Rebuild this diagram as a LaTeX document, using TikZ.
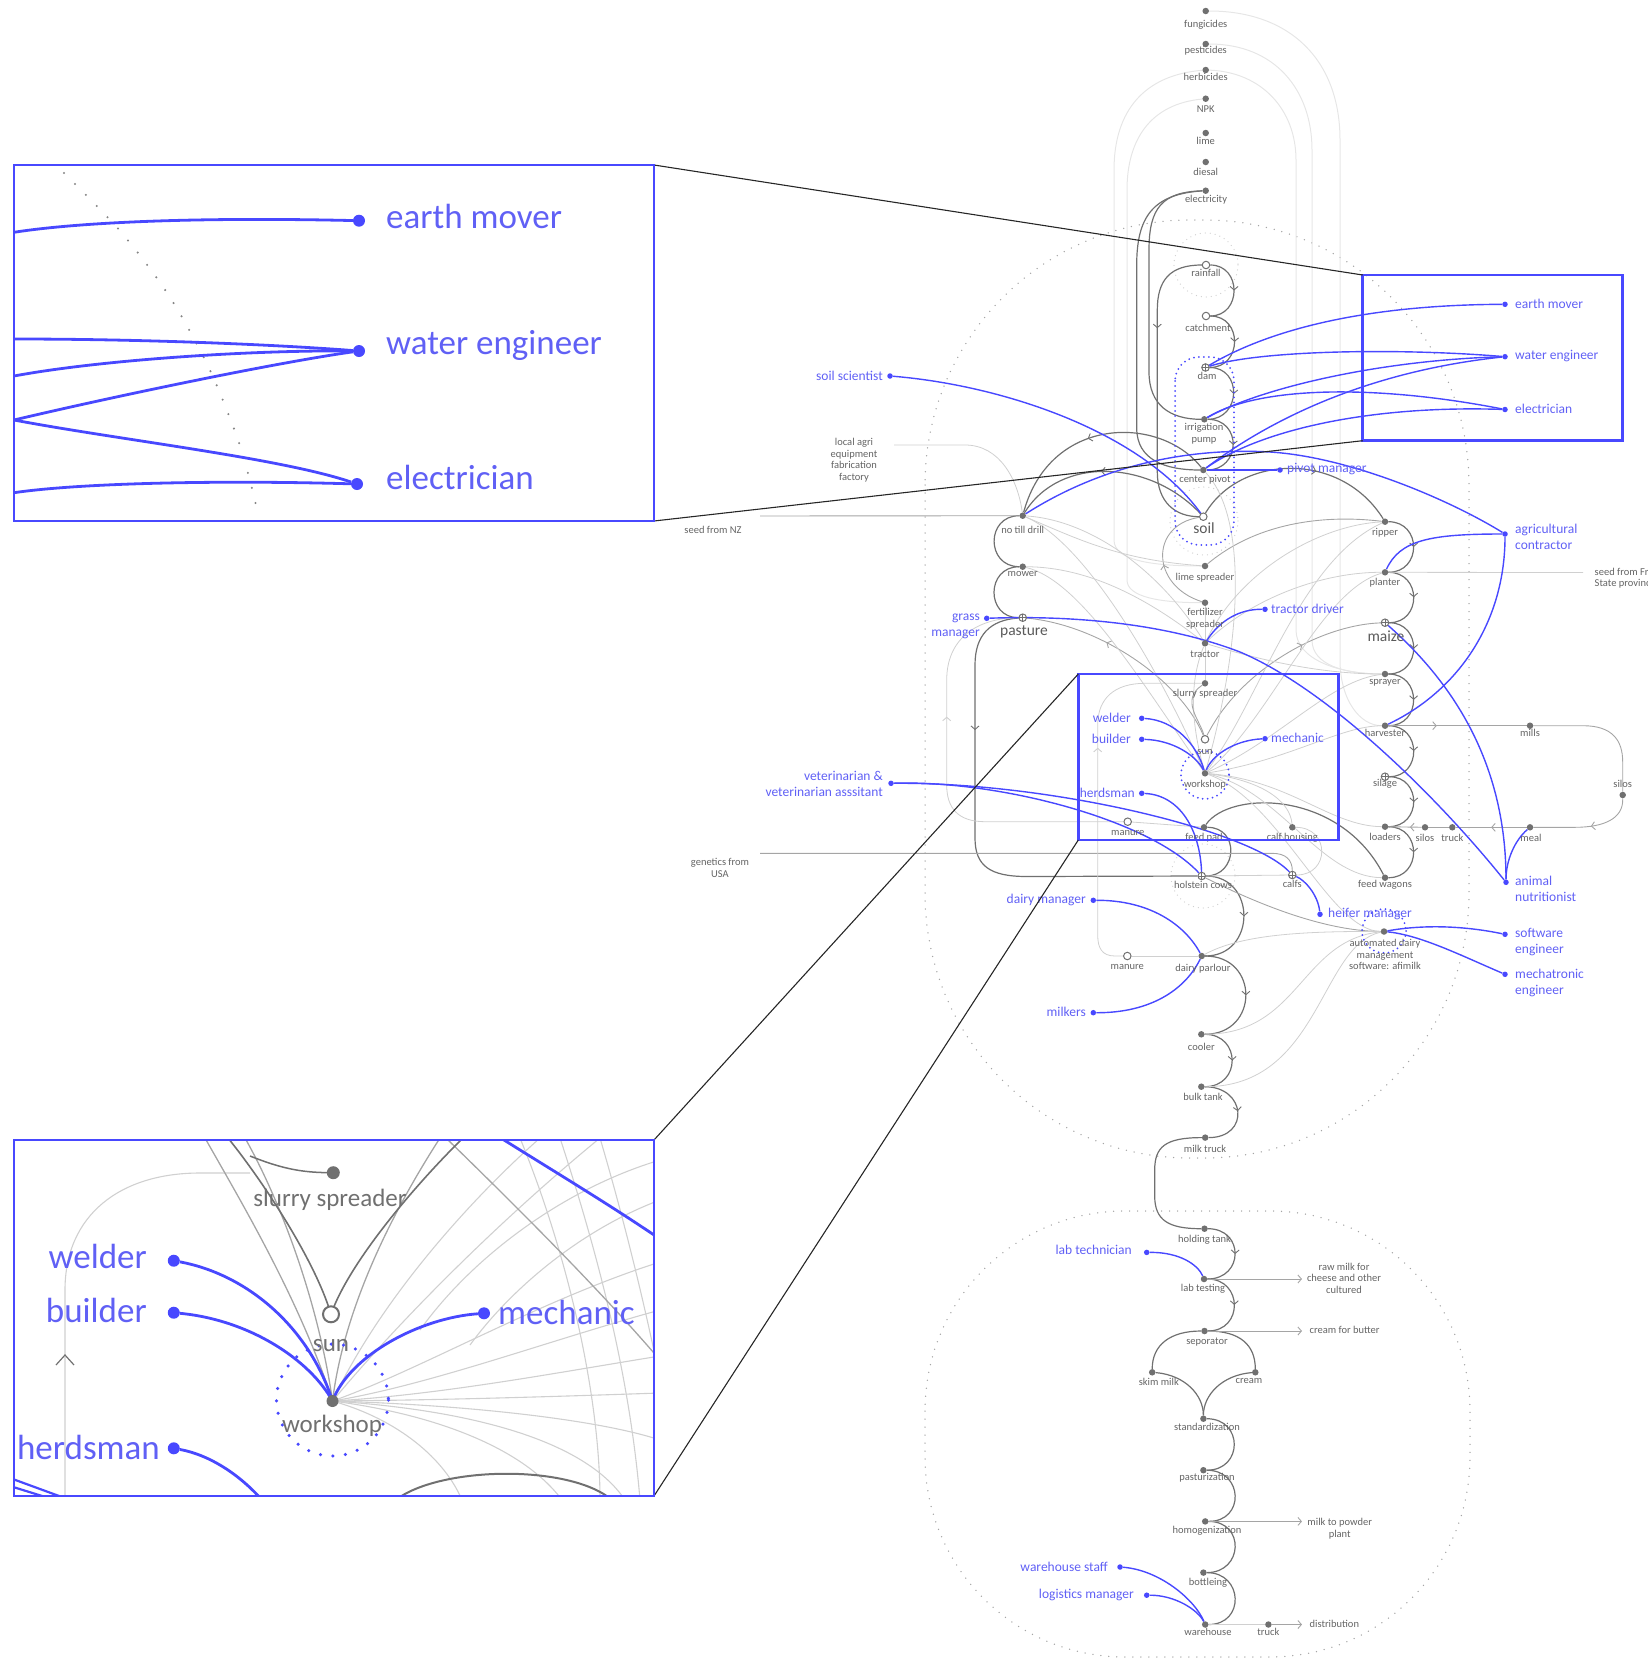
\documentclass[tikz,border=0pt]{standalone}
\usepackage{fontspec}
\setmainfont{Carlito}
\usetikzlibrary{arrows.meta,decorations.markings}
\pgfdeclarelayer{bg}
\pgfdeclarelayer{mid}
\pgfsetlayers{bg,mid,main}
\definecolor{bl}{RGB}{72,72,255}
\definecolor{blt}{RGB}{96,96,245}
\definecolor{dg}{RGB}{112,112,112}
\definecolor{mg}{RGB}{165,165,165}
\definecolor{lg}{RGB}{208,208,208}
\definecolor{vlg}{RGB}{230,230,230}
\definecolor{tg}{RGB}{100,100,100}
\definecolor{bigg}{RGB}{90,90,90}
\tikzset{
 gd/.style={circle,fill=dg,draw=none,inner sep=0pt,minimum size=6.5pt},
 od/.style={circle,fill=white,draw=dg,line width=1pt,inner sep=0pt,minimum size=7.5pt},
 odp/.style={od,path picture={\draw[dg,line width=0.6pt] (path picture bounding box.west) -- (path picture bounding box.east) (path picture bounding box.north) -- (path picture bounding box.south);}},
 bd/.style={circle,fill=bl,draw=none,inner sep=0pt,minimum size=5.5pt},
 lab/.style={text=tg,font=\fontsize{10.5}{11.5}\selectfont,align=center,inner sep=0pt},
 biglab/.style={text=bigg,font=\fontsize{15.5}{17}\selectfont,inner sep=0pt},
 blab/.style={text=blt,font=\fontsize{13.5}{16}\selectfont,inner sep=0pt},
 dk/.style={draw=dg,line width=1.2pt},
 md/.style={draw=mg,line width=0.9pt},
 lt/.style={draw=lg,line width=0.8pt},
 vlt/.style={draw=vlg,line width=1pt},
 bln/.style={draw=bl,line width=1.4pt},
 midarr/.style={postaction={decorate},decoration={markings,mark=at position #1 with {\arrow{Straight Barb[length=3.5pt,width=8pt,line width=0.9pt]}}}},
 endarr/.style={-{Straight Barb[length=3.5pt,width=8pt,line width=0.9pt]}},
 bigdots/.style={draw=mg,line width=1.5pt,line cap=round,dash pattern=on 0pt off 8pt},
 smdots/.style={draw=lg,line width=1.3pt,line cap=round,dash pattern=on 0pt off 5pt},
 bdots/.style={draw=bl,line width=2pt,line cap=round,dash pattern=on 0pt off 5pt},
 bbox/.style={draw=bl,line width=2.5pt},
 callout/.style={draw=black!85,line width=1.1pt},
 ibl/.style={draw=bl,line width=2.8pt},
 ibd/.style={circle,fill=bl,draw=none,inner sep=0pt,minimum size=12pt},
 ilab/.style={text=blt,font=\fontsize{35}{40}\selectfont,inner sep=0pt},
 iglab/.style={text=dg,font=\fontsize{25}{28}\selectfont,inner sep=0pt},
}
\begin{document}
\begin{tikzpicture}[x=1pt,y=-1pt]
\useasboundingbox (0,0) rectangle (1648,1673);

%================ NODES (main) ================
\node[gd] (fung) at (1205.7,11) {};
\node[gd] (pest) at (1205.7,44) {};
\node[gd] (herb) at (1205.7,70) {};
\node[gd] (npk) at (1205.7,98.7) {};
\node[gd] (lime) at (1205.7,133) {};
\node[gd] (dies) at (1205.7,162) {};
\node[gd] (elec) at (1205.7,190.7) {};
\node[od] (rain) at (1206,265) {};
\node[od] (catch) at (1206,316) {};
\node[odp] (dam) at (1205.5,367.5) {};
\node[gd] (pump) at (1204.3,419.3) {};
\node[gd] (cpiv) at (1203.3,470) {};
\node[od] (soil) at (1203.3,516.7) {};
\node[gd] (notill) at (1022.7,515.7) {};
\node[gd] (mower) at (1022.7,566.7) {};
\node[odp] (past) at (1022.7,617.7) {};
\node[gd] (limesp) at (1205,566) {};
\node[gd] (fert) at (1205,602.7) {};
\node[gd] (tract) at (1205,643.3) {};
\node[gd] (slurry) at (1205,683.3) {};
\node[od] (sun) at (1205,739.3) {};
\node[gd] (ws) at (1205,773.3) {};
\node[gd] (ripper) at (1385,521.7) {};
\node[gd] (planter) at (1385,572.3) {};
\node[odp] (maize) at (1385,622.7) {};
\node[gd] (sprayer) at (1385,674) {};
\node[gd] (harv) at (1385,725.7) {};
\node[odp] (silage) at (1385,776.7) {};
\node[gd] (loaders) at (1385,826.7) {};
\node[gd] (fwag) at (1385,877.7) {};
\node[gd] (mills) at (1530,725.7) {};
\node[gd] (silosR) at (1622.7,795) {};
\node[gd] (meal) at (1530,827.3) {};
\node[gd] (truckA) at (1452.3,827.3) {};
\node[gd] (silosA) at (1425,827.3) {};
\node[od] (manuA) at (1127.7,821.7) {};
\node[gd] (fpad) at (1204,827.3) {};
\node[gd] (calfh) at (1292.3,827.3) {};
\node[odp] (hcows) at (1201.7,876) {};
\node[odp] (calfs) at (1292.3,875) {};
\node[gd] (auto) at (1384,931.5) {};
\node[od] (manuB) at (1127.3,956) {};
\node[gd] (dparl) at (1201.7,956) {};
\node[gd] (cooler) at (1201.3,1034.3) {};
\node[gd] (btank) at (1201.3,1086.7) {};
\node[gd] (mtruck) at (1205.2,1137.6) {};
\node[gd] (htank) at (1204.5,1228.7) {};
\node[gd] (labt) at (1204,1279) {};
\node[gd] (sep) at (1204.5,1331) {};
\node[gd] (skim) at (1152.2,1372.3) {};
\node[gd] (cream) at (1255.3,1372.3) {};
\node[gd] (stdz) at (1203.4,1418.7) {};
\node[gd] (pstz) at (1203.4,1470.2) {};
\node[gd] (homog) at (1205.2,1521.4) {};
\node[gd] (bottl) at (1203.4,1572.6) {};
\node[gd] (wareh) at (1205.2,1624.5) {};
\node[gd] (truckB) at (1268.4,1624.5) {};
\coordinate (rawend) at (1302,1279);
\coordinate (butend) at (1302,1331);
\coordinate (powend) at (1302,1521.4);
\coordinate (distend) at (1302,1624.5);
\coordinate (seedNZ) at (760,516);
\coordinate (seedFS) at (1583,572.5);
\coordinate (agri) at (894,445);
\coordinate (genA) at (760,853.3);

% blue dots
\node[bd] (emover) at (1505,304.3) {};
\node[bd] (weng) at (1505,356.7) {};
\node[bd] (elecn) at (1505,409.5) {};
\node[bd] (pivman) at (1280,470) {};
\node[bd] (agcon) at (1505,534) {};
\node[bd] (soilsci) at (890,376) {};
\node[bd] (grassm) at (986.7,618.3) {};
\node[bd] (tdriv) at (1265,609.3) {};
\node[bd] (welder) at (1141.7,718.3) {};
\node[bd] (builder) at (1141.7,739.3) {};
\node[bd] (mech) at (1265,738.7) {};
\node[bd] (herds) at (1141.7,793.3) {};
\node[bd] (vet) at (891,783.3) {};
\node[bd] (heifer) at (1320,914.3) {};
\node[bd] (dairym) at (1093.3,900.3) {};
\node[bd] (milkers) at (1093.3,1012.7) {};
\node[bd] (animn) at (1506,882.3) {};
\node[bd] (softe) at (1505,934.3) {};
\node[bd] (mecha) at (1505,974.3) {};
\node[bd] (labtech) at (1146.7,1252.4) {};
\node[bd] (whstaff) at (1120,1567) {};
\node[bd] (logman) at (1146.7,1595.2) {};

%================ LABELS (gray) ================
\node[lab] (t1) at (1205.7,25) {fungicides};
\node[lab] (t2) at (1205.7,51) {pesticides};
\node[lab] (t3) at (1205.7,77) {herbicides};
\node[lab] (t4) at (1205.7,109) {NPK};
\node[lab] (t5) at (1205.7,141) {lime};
\node[lab] (t6) at (1205.7,172) {diesal};
\node[lab] (t7) at (1206,200) {electricity};
\node[lab] (t8) at (1206,273) {rainfall};
\node[lab] (t9) at (1208,328) {catchment};
\node[lab] (t10) at (1207,376) {dam};
\node[lab] (t11) at (1204,433.5) {irrigation\\pump};
\node[lab] (t12) at (1205,480) {center pivot};
\node[biglab] (t13) at (1204,528) {soil};
\node[lab] (t14) at (1022.7,529.5) {no till drill};
\node[lab] (t15) at (1022.7,574) {mower};
\node[biglab] (t16) at (1024,631.5) {pasture};
\node[lab] (t17) at (1205,578) {lime spreader};
\node[lab] (t18) at (1205,618.5) {fertilizer\\spreader};
\node[lab] (t19) at (1205,654.5) {tractor};
\node[lab] (t20) at (1205,694) {slurry spreader};
\node[lab] (t21) at (1205,752) {sun};
\node[lab] (t22) at (1205,785) {workshop};
\node[lab] (t23) at (1385,533) {ripper};
\node[lab] (t24) at (1385,583) {planter};
\node[biglab] (t25) at (1386,636.5) {maize};
\node[lab] (t26) at (1385,683) {sprayer};
\node[lab] (t27) at (1385,733) {harvester};
\node[lab] (t28) at (1385,784) {silage};
\node[lab] (t29) at (1385,837) {loaders};
\node[lab] (t30) at (1385,885) {feed wagons};
\node[lab] (t31) at (1530,733) {mills};
\node[lab] (t32) at (1622.7,784) {silos};
\node[lab] (t33) at (1531,838) {meal};
\node[lab] (t34) at (1452.3,838) {truck};
\node[lab] (t35) at (1425,838) {silos};
\node[lab] (t36) at (1127.7,833) {manure};
\node[lab] (t37) at (1204,838) {feed pad};
\node[lab] (t38) at (1292.3,838) {calf housing};
\node[lab] (t39) at (1203,885) {holstein cows};
\node[lab] (t40) at (1292.3,884) {calfs};
\node[lab] (t41) at (1385,954.5) {automated dairy\\management\\software: afimilk};
\node[lab] (t42) at (1127.3,967) {manure};
\node[lab] (t43) at (1203,969) {dairy parlour};
\node[lab] (t44) at (1201.3,1047) {cooler};
\node[lab] (t45) at (1203,1097) {bulk tank};
\node[lab] (t46) at (1205,1148.5) {milk truck};
\node[lab] (t47) at (1204.5,1240) {holding tank};
\node[lab] (t48) at (1203,1289) {lab testing};
\node[lab] (t49) at (1207,1342) {seporator};
\node[lab] (t50) at (1158.8,1381.4) {skim milk};
\node[lab] (t51) at (1249,1381.4) {cream};
\node[lab] (t52) at (1207,1427) {standardization};
\node[lab] (t53) at (1207,1478) {pasturization};
\node[lab] (t54) at (1207,1530.6) {homogenization};
\node[lab] (t55) at (1208,1583) {bottleing};
\node[lab] (t56) at (1208,1631.8) {warehouse};
\node[lab] (t57) at (1268.4,1631.8) {truck};
\node[lab] (t58) at (1344,1278) {raw milk for\\cheese and other\\cultured};
\node[lab,anchor=west] (t59) at (1309.4,1330) {cream for butter};
\node[lab] (t60) at (1339.7,1528.5) {milk to powder\\plant};
\node[lab,anchor=west] (t61) at (1309.4,1623.7) {distribution};
\node[lab] (t62) at (713,530) {seed from NZ};
\node[lab] (t63) at (854,460) {local agri\\equipment\\fabrication\\factory};
\node[lab] (t64) at (720,868) {genetics from\\USA};
\node[lab,anchor=west,align=left] (t65) at (1594.5,578) {seed from Free\\State province};

%================ LABELS (blue) ================
\node[blab,anchor=west] (b1) at (1515,304) {earth mover};
\node[blab,anchor=west] (b2) at (1515,356) {water engineer};
\node[blab,anchor=west] (b3) at (1515,408.5) {electrician};
\node[blab,anchor=west] (b4) at (1287,469.5) {pivot manager};
\node[blab,anchor=west,align=left] (b5) at (1515,537) {agricultural\\contractor};
\node[blab,anchor=west] (b6) at (1271,608.5) {tractor driver};
\node[blab,anchor=west] (b7) at (1271,738) {mechanic};
\node[blab,anchor=west] (b8) at (1328,914) {heifer manager};
\node[blab,anchor=west,align=left] (b9) at (1515,888.5) {animal\\nutritionist};
\node[blab,anchor=west,align=left] (b10) at (1515,942) {software\\engineer};
\node[blab,anchor=west,align=left] (b11) at (1515,983) {mechatronic\\engineer};
\node[blab,anchor=east] (b12) at (883,375.5) {soil scientist};
\node[blab,anchor=east,align=right] (b13) at (980,626.5) {grass\\manager};
\node[blab,anchor=east] (b14) at (1131,717.5) {welder};
\node[blab,anchor=east] (b15) at (1131,738.5) {builder};
\node[blab,anchor=east] (b16) at (1135,792.5) {herdsman};
\node[blab,anchor=east,align=right] (b17) at (883,783.5) {veterinarian \&\\veterinarian asssitant};
\node[blab,anchor=east] (b18) at (1086,899.5) {dairy manager};
\node[blab,anchor=east] (b19) at (1086,1012) {milkers};
\node[blab,anchor=east] (b20) at (1132,1250) {lab technician};
\node[blab,anchor=east] (b21) at (1108,1566.5) {warehouse staff};
\node[blab,anchor=east] (b22) at (1134,1594.5) {logistics manager};

%================ BACKGROUND CONNECTORS ================
\begin{pgfonlayer}{bg}
\draw[bigdots,rounded corners=265pt] (925,220) rectangle (1469,1158);
\draw[bigdots,rounded corners=200pt] (925,1211) rectangle (1470,1657);
\draw[smdots] (1206,265) circle[radius=32];
\draw[smdots] (1204,521) circle[radius=34];
\draw[smdots] (1203,876) circle[radius=32];

\draw[vlt] (fung) .. controls (1290,11) and (1340,60) .. (1340,140) -- (1340,660) .. controls (1340,700) and (1360,725.7) .. (harv);
\draw[vlt] (pest) .. controls (1275,44) and (1312,90) .. (1312,150) -- (1312,640) .. controls (1312,665) and (1345,674) .. (sprayer);
\draw[vlt] (herb) .. controls (1262,72) and (1296,110) .. (1296,160) -- (1296,630) .. controls (1296,660) and (1340,674) .. (sprayer);
\draw[vlt] (herb) .. controls (1145,75) and (1114,110) .. (1114,170) -- (1114,540) .. controls (1114,560) and (1150,566) .. (limesp);
\draw[vlt] (npk) .. controls (1150,104) and (1127,140) .. (1127,190) -- (1127,580) .. controls (1127,597) and (1160,602.7) .. (fert);

\draw[dk,midarr=0.5] (rain) .. controls +(36,0) and +(36,0) .. (catch);
\draw[dk,midarr=0.5] (catch) .. controls +(37,0) and +(37,0) .. (dam);
\draw[dk,midarr=0.5] (dam) .. controls +(37,0) and +(37,0) .. (pump);
\draw[dk,midarr=0.5] (pump) .. controls +(38,0) and +(38,0) .. (cpiv);
\draw[dk] (elec) .. controls (1162,192) and (1149,208) .. (1149,250) -- (1149,372) .. controls (1149,405) and (1170,419.3) .. (pump);
\draw[dk] (elec) .. controls (1152,194) and (1136.7,218) .. (1136.7,265) -- (1136.7,428) .. controls (1136.7,460) and (1165,470) .. (cpiv);
\draw[dk,midarr=0.3] (rain) .. controls (1170,265) and (1157.3,280) .. (1157.3,310) -- (1157.3,472) .. controls (1157.3,502) and (1175,516.7) .. (soil);
\draw[dk,midarr=0.55] (cpiv) .. controls (1160,415) and (1050,415) .. (notill);
\draw[dk,midarr=0.55] (soil) .. controls (1150,460) and (1060,455) .. (notill);
\draw[dk,midarr=0.6] (soil) .. controls (1240,455) and (1340,450) .. (ripper);
\draw[dk] (notill) .. controls +(-37,0) and +(-37,0) .. (mower);
\draw[dk] (mower) .. controls +(-37,0) and +(-37,0) .. (past);
\draw[dk,midarr=0.28] (past) .. controls (990,620) and (975,635) .. (975,665) -- (975,838) .. controls (975,866) and (990,876.5) .. (1026.7,876.5) -- (hcows);

\draw[dk,midarr=0.5] (ripper) .. controls +(37,0) and +(37,0) .. (planter);
\draw[dk,midarr=0.5] (planter) .. controls +(37,0) and +(37,0) .. (maize);
\draw[dk,midarr=0.5] (maize) .. controls +(37,0) and +(37,0) .. (sprayer);
\draw[dk,midarr=0.5] (sprayer) .. controls +(37,0) and +(37,0) .. (harv);
\draw[dk,midarr=0.5] (harv) .. controls +(37,0) and +(37,0) .. (silage);
\draw[dk,midarr=0.5] (silage) .. controls +(37,0) and +(37,0) .. (loaders);
\draw[dk,midarr=0.5] (loaders) .. controls +(37,0) and +(37,0) .. (fwag);
\draw[dk] (fwag) .. controls (1340,790) and (1230,790) .. (fpad);
\draw[dk] (fpad) .. controls +(36,0) and +(36,0) .. (hcows);

\draw[dk,midarr=0.5] (hcows) .. controls +(55,0) and +(55,0) .. (dparl);
\draw[dk,midarr=0.5] (dparl) .. controls +(58,0) and +(58,0) .. (cooler);
\draw[dk,midarr=0.5] (cooler) .. controls +(40,0) and +(40,0) .. (btank);
\draw[dk,midarr=0.5] (btank) .. controls +(45,0) and +(45,0) .. (mtruck);
\draw[dk] (mtruck) .. controls (1165,1137.6) and (1154.7,1147) .. (1154.7,1170) -- (1154.7,1196) .. controls (1154.7,1220) and (1168,1228.7) .. (htank);
\draw[dk,midarr=0.5] (htank) .. controls +(40,0) and +(40,0) .. (labt);
\draw[dk,midarr=0.5] (labt) .. controls +(39,0) and +(39,0) .. (sep);
\draw[dk] (sep) .. controls (1170,1331) and (1152.2,1345) .. (skim);
\draw[dk] (sep) .. controls (1240,1331) and (1255.3,1345) .. (cream);
\draw[dk] (skim) .. controls (1185,1375) and (1203.4,1395) .. (stdz);
\draw[dk] (cream) .. controls (1222,1375) and (1203.4,1395) .. (stdz);
\draw[dk] (stdz) .. controls +(40,0) and +(40,0) .. (pstz);
\draw[dk] (pstz) .. controls +(40,0) and +(40,0) .. (homog);
\draw[dk] (homog) .. controls +(40,0) and +(40,0) .. (bottl);
\draw[dk] (bottl) .. controls +(40,0) and +(40,0) .. (wareh);
\draw[md,endarr] (labt) -- (rawend);
\draw[md,endarr] (sep) -- (butend);
\draw[md,endarr] (homog) -- (powend);
\draw[lt] (wareh) -- (truckB);
\draw[md,endarr] (truckB) -- (distend);

\draw[md,midarr=0.35] (harv) -- (mills);
\draw[md] (mills) -- (1583,725.7) .. controls (1612,725.7) and (1622.7,740) .. (1622.7,762) -- (silosR);
\draw[md,midarr=0.45] (silosR) -- (1622.7,800) .. controls (1622.7,818) and (1605,827.3) .. (1575,827.3) -- (meal);
\draw[md,midarr=0.5] (meal) -- (truckA);
\draw[md] (truckA) -- (silosA);
\draw[md,midarr=0.35] (silosA) -- (loaders);

\draw[lt] (calfh) .. controls +(38,0) and +(38,0) .. (calfs);
\draw[lt] (hcows) -- (calfs);
\draw[md] (genA) -- (1272,853.3) .. controls (1286,853.3) and (1292.3,860) .. (calfs);
\draw[md] (seedNZ) -- (notill);
\draw[lt] (planter) -- (seedFS);
\draw[lt] (agri) -- (965,445) .. controls (1000,445) and (1018,480) .. (notill);
\draw[lt,midarr=0.65] (manuA) -- (985,821.7) .. controls (958,821.7) and (946.7,808) .. (946.7,785) -- (946.7,680) .. controls (946.7,640) and (975,618) .. (past);
\draw[lt] (fpad) -- (manuA);
\draw[lt,midarr=0.6] (manuB) -- (1115,956) .. controls (1102,956) and (1097.7,948) .. (1097.7,935) -- (1097.7,725) .. controls (1097.7,698) and (1115,683.3) .. (1145,683.3) -- (slurry);
\draw[lt] (dparl) -- (manuB);

\draw[md,midarr=0.62] (sun) .. controls (1180,680) and (1100,625) .. (past);
\draw[md,midarr=0.62] (sun) .. controls (1240,670) and (1320,625) .. (maize);
\draw[md] (limesp) .. controls (1260,520) and (1330,515) .. (ripper);
\draw[md,midarr=0.45] (fert) .. controls (1150,585) and (1150,525) .. (soil);
\draw[lt] (tract) .. controls (1160,570) and (1090,520) .. (notill);
\draw[lt] (tract) .. controls (1150,600) and (1090,567) .. (mower);
\draw[lt] (tract) .. controls (1240,570) and (1320,525) .. (ripper);
\draw[lt] (tract) .. controls (1250,600) and (1320,572) .. (planter);
\draw[lt] (tract) .. controls (1260,660) and (1320,674) .. (sprayer);
\draw[lt] (tract) -- (fert);
\draw[lt] (tract) -- (slurry);
\draw[lt] (limesp) .. controls (1120,560) and (1080,540) .. (notill);

\draw[lt] (ws) .. controls (1260,700) and (1300,560) .. (ripper);
\draw[lt] (ws) .. controls (1270,720) and (1320,590) .. (planter);
\draw[lt] (ws) .. controls (1280,740) and (1330,680) .. (sprayer);
\draw[lt] (ws) .. controls (1290,760) and (1340,726) .. (harv);
\draw[lt] (ws) .. controls (1290,780) and (1330,826) .. (loaders);
\draw[lt] (ws) .. controls (1280,790) and (1320,877) .. (fwag);
\draw[lt] (ws) .. controls (1190,720) and (1190,680) .. (tract);
\draw[lt] (ws) .. controls (1150,650) and (1080,540) .. (notill);
\draw[lt] (ws) .. controls (1140,680) and (1080,580) .. (mower);
\draw[lt] (ws) .. controls (1240,650) and (1250,520) .. (cpiv);
\draw[lt] (ws) .. controls (1280,800) and (1330,931) .. (auto);
\draw[lt] (ws) .. controls (1260,780) and (1290,800) .. (calfh);
\draw[md] (sun) .. controls (1200,720) and (1180,700) .. (slurry);

\draw[md] (hcows) .. controls (1250,900) and (1320,931) .. (auto);
\draw[lt] (dparl) .. controls (1240,935) and (1300,931) .. (auto);
\draw[lt] (auto) .. controls (1300,940) and (1300,1034) .. (cooler);
\draw[lt] (auto) .. controls (1320,945) and (1320,1087) .. (btank);
\end{pgfonlayer}

%================ BLUE CONNECTORS ================
\begin{pgfonlayer}{mid}
\draw[bln] (dam) .. controls (1260,335) and (1350,305) .. (emover);
\draw[bln] (dam) .. controls (1260,350) and (1400,348) .. (weng);
\draw[bln] (pump) .. controls (1260,388) and (1380,360) .. (weng);
\draw[bln] (pump) .. controls (1260,385) and (1380,385) .. (elecn);
\draw[bln] (cpiv) .. controls (1280,412) and (1380,370) .. (weng);
\draw[bln] (cpiv) .. controls (1260,430) and (1370,405) .. (elecn);
\draw[bln] (cpiv) -- (pivman);
\draw[bln] (notill) .. controls (1110,460) and (1200,448) .. (1270,452) .. controls (1350,457) and (1450,500) .. (agcon);
\draw[bln] (planter) .. controls (1400,540) and (1430,534) .. (agcon);
\draw[bln] (harv) .. controls (1460,690) and (1505,620) .. (agcon);
\draw[bln] (maize) .. controls (1450,680) and (1506,760) .. (animn);
\draw[bln] (grassm) .. controls (1080,615) and (1170,625) .. (1240,652) .. controls (1330,690) and (1440,800) .. (animn);
\draw[bln] (meal) .. controls (1515,840) and (1506,860) .. (animn);
\draw[bln] (soilsci) .. controls (1000,385) and (1140,430) .. (soil);
\draw[bln] (tract) .. controls (1220,620) and (1240,609) .. (tdriv);
\draw[bln] (welder) .. controls (1175,720) and (1197,745) .. (ws);
\draw[bln] (builder) .. controls (1172,740) and (1196,755) .. (ws);
\draw[bln] (mech) .. controls (1235,740) and (1212,755) .. (ws);
\draw[bln] (herds) .. controls (1180,795) and (1200,830) .. (hcows);
\draw[bln] (vet) .. controls (1000,780) and (1150,820) .. (hcows);
\draw[bln] (vet) .. controls (1050,782) and (1250,830) .. (calfs);
\draw[bln] (heifer) .. controls (1318,895) and (1305,880) .. (calfs);
\draw[bln] (dairym) .. controls (1150,900) and (1185,925) .. (dparl);
\draw[bln] (milkers) .. controls (1150,1013) and (1185,990) .. (dparl);
\draw[bln] (softe) .. controls (1460,925) and (1420,925) .. (auto);
\draw[bln] (mecha) .. controls (1460,955) and (1420,935) .. (auto);
\draw[bln] (labtech) .. controls (1180,1252) and (1198,1265) .. (labt);
\draw[bln] (whstaff) .. controls (1160,1570) and (1195,1600) .. (wareh);
\draw[bln] (logman) .. controls (1175,1595) and (1198,1610) .. (wareh);
\draw[bdots,rounded corners=24pt] (1175,357) rectangle (1234,545);
\draw[bdots] (1205,775) circle[radius=24];
\draw[bdots] (1384,931) circle[radius=22];
\end{pgfonlayer}

%================ MAGNIFIER BOXES ================
\coordinate (m1a) at (1362.7,275); \coordinate (m1b) at (1362.7,440.7);
\coordinate (m2a) at (1078.3,674); \coordinate (m2b) at (1078.3,840);
\coordinate (i1a) at (654,165); \coordinate (i1b) at (654,521);
\coordinate (i2a) at (654,1140); \coordinate (i2b) at (654,1496);
\draw[bbox] (m1a) rectangle (1622.7,440.7);
\draw[bbox] (m2a) rectangle (1338.3,840);
\draw[callout] (i1a) -- (m1a);
\draw[callout] (i1b) -- (m1b);
\draw[callout] (i2a) -- (m2a);
\draw[callout] (i2b) -- (m2b);

%================ INSET 1 ================
\draw[draw=dg!85,line width=2.3pt,line cap=round,dash pattern=on 0pt off 15.5pt] plot[smooth] coordinates {(64,173) (121,232) (169.6,296.7) (209,368) (239.5,444) (255.5,503)};
\node[ibd] (iem) at (359,220.7) {};
\node[ibd] (iwe) at (359,351) {};
\node[ibd] (iel) at (357,484) {};
\coordinate (ie0) at (14,232.3);
\coordinate (iw1) at (14,339);
\coordinate (iw2) at (14,376);
\coordinate (ix) at (14,420);
\coordinate (ie2) at (14,492.7);
\draw[ibl] (ie0) .. controls (80,222) and (200,217) .. (iem);
\draw[ibl] (iw1) .. controls (150,339) and (280,345) .. (iwe);
\draw[ibl] (iw2) .. controls (100,360) and (250,350) .. (iwe);
\draw[ibl] (ix) .. controls (120,395) and (280,362) .. (iwe);
\draw[ibl] (ix) .. controls (120,440) and (280,458) .. (iel);
\draw[ibl] (ie2) .. controls (80,483) and (220,480) .. (iel);
\node[ilab,anchor=west] (il1) at (386,216) {earth mover};
\node[ilab,anchor=west] (il2) at (386,345) {water engineer};
\node[ilab,anchor=west] (il3) at (386,477) {electrician};
\draw[bbox] (14,165) rectangle (654,521);

%================ INSET 2 ================
\coordinate (iws) at (332.5,1401);
\coordinate (isun) at (331,1314.3);
\begin{scope}
\clip (14,1140) rectangle (654,1496);
\begin{scope}[lt,line width=1.1pt]
\draw (iws) .. controls (420,1370) and (540,1300) .. (660,1262);
\draw (iws) .. controls (430,1385) and (550,1340) .. (660,1310);
\draw (iws) .. controls (440,1395) and (560,1372) .. (660,1356);
\draw (iws) .. controls (450,1400) and (570,1396) .. (660,1393);
\draw (iws) .. controls (470,1405) and (600,1420) .. (660,1440);
\draw (iws) .. controls (470,1410) and (585,1440) .. (625,1500);
\draw (iws) .. controls (440,1415) and (525,1450) .. (562,1500);
\draw (iws) .. controls (400,1420) and (445,1460) .. (462,1500);
\draw (iws) .. controls (380,1300) and (470,1200) .. (540,1138);
\draw (iws) .. controls (400,1320) and (500,1220) .. (600,1138);
\draw (560,1138) .. controls (600,1260) and (630,1380) .. (640,1500);
\draw (600,1138) .. controls (630,1240) and (650,1330) .. (660,1380);
\draw (520,1138) .. controls (570,1260) and (600,1400) .. (600,1500);
\draw (660,1160) .. controls (560,1190) and (470,1260) .. (420,1330);
\draw (660,1200) .. controls (580,1230) and (510,1290) .. (470,1345);
\draw (65,1500) -- (65,1290) .. controls (65,1215) and (120,1173) .. (200,1173) -- (250,1173);
\end{scope}
\draw[md,line width=1.3pt] (446,1138) .. controls (520,1210) and (600,1290) .. (660,1360);
\draw[md,line width=1.3pt] (iws) .. controls (300,1300) and (240,1200) .. (205,1138);
\draw[md,line width=1.3pt] (iws) .. controls (318,1300) and (280,1200) .. (245,1138);
\draw[md,line width=1.3pt] (iws) .. controls (345,1300) and (400,1200) .. (440,1138);
\draw[draw=dg,line width=1.6pt] (isun) .. controls (315,1260) and (262,1180) .. (228,1138);
\draw[draw=dg,line width=1.6pt] (isun) .. controls (350,1260) and (420,1180) .. (463,1138);
\draw[draw=dg,line width=1.5pt] (250,1156) .. controls (285,1170) and (305,1172.7) .. (333.3,1172.7);
\draw[draw=dg,line width=1.2pt] (56,1365) -- (65,1355) -- (74,1365);
\draw[draw=dg,line width=2pt] (395.6,1500) .. controls (440,1466) and (570,1464) .. (612,1500);
\draw[ibl] (500.8,1138) .. controls (560,1175) and (610,1205) .. (660,1239);
\draw[ibl,line width=2.2pt] (10,1478) -- (70,1500);
\draw[ibl,line width=2.2pt] (10,1486) -- (55,1500);
\node[ibd] (ihe) at (173.8,1448.3) {};
\draw[ibl] (ihe) .. controls (210,1455) and (240,1475) .. (262,1500);
\node[ibd] (iwl) at (173.8,1260.7) {};
\node[ibd] (ibu) at (173.8,1312.7) {};
\node[ibd] (ime) at (484,1313.3) {};
\draw[ibl] (iwl) .. controls (250,1275) and (310,1330) .. (iws);
\draw[ibl] (ibu) .. controls (250,1320) and (310,1360) .. (iws);
\draw[ibl] (ime) .. controls (420,1318) and (350,1355) .. (iws);
\draw[draw=bl,line width=3.5pt,line cap=round,dash pattern=on 0pt off 12.5pt] (332.5,1400) circle[radius=56];
\node[circle,fill=dg,inner sep=0pt,minimum size=13pt] (isl) at (333.3,1172.7) {};
\node[circle,fill=white,draw=dg,line width=2pt,inner sep=0pt,minimum size=16pt] (isn) at (isun) {};
\node[circle,fill=dg,inner sep=0pt,minimum size=12pt] (iwk) at (iws) {};
\node[iglab] (ig1) at (330,1200) {slurry spreader};
\node[iglab] (ig2) at (331,1346) {sun};
\node[iglab] (ig3) at (332,1426) {workshop};
\node[ilab,anchor=east] (ib1) at (147,1256) {welder};
\node[ilab,anchor=east] (ib2) at (147,1310) {builder};
\node[ilab,anchor=west] (ib3) at (498,1312) {mechanic};
\node[ilab,anchor=east] (ib4) at (160,1447) {herdsman};
\end{scope}
\draw[bbox] (14,1140) rectangle (654,1496);
\end{tikzpicture}
\end{document}
